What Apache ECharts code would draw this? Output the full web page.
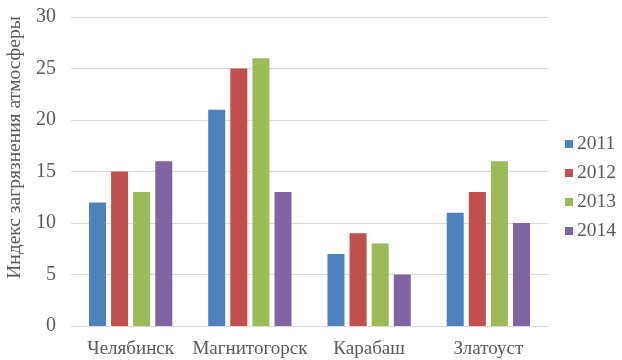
<!DOCTYPE html>
<html>
<head>
<meta charset="utf-8">
<script src="https://cdn.jsdelivr.net/npm/echarts@6/dist/echarts.min.js"></script>
<style>
  html, body { margin: 0; padding: 0; background: #fff; }
  #chart { width: 622px; height: 360px; }
</style>
</head>
<body>
<div id="chart"></div>
<script>
// Cities and yearly atmospheric pollution index values
const cities = ['Челябинск', 'Магнитогорск', 'Карабаш', 'Златоуст'];
const years = ['2011', '2012', '2013', '2014'];
const values2011 = [12, 21, 7, 11];
const values2012 = [15, 25, 9, 13];
const values2013 = [13, 26, 8, 16];
const values2014 = [16, 13, 5, 10];
const yTicks = [0, 5, 10, 15, 20, 25, 30];

const colors = ['#4F81BD', '#C0504D', '#9BBB59', '#8064A2'];
const seriesValues = [values2011, values2012, values2013, values2014];
const font = '"Liberation Serif", "Times New Roman", serif';
const textColor = '#595959';

const chart = echarts.init(document.getElementById('chart'), null, { renderer: 'canvas' });

chart.setOption({
  animation: false,
  color: colors,
  textStyle: { fontFamily: font },
  grid: { left: 71, right: 74, top: 17, bottom: 34, outerBoundsMode: 'none', containLabel: false },
  legend: {
    orient: 'vertical',
    right: 1,
    top: 129,
    itemWidth: 8,
    itemHeight: 8,
    itemGap: 9,
    icon: 'rect',
    textStyle: { fontFamily: font, fontSize: 19.5, color: textColor, padding: [0, 0, 0, -1] },
    data: years
  },
  xAxis: {
    type: 'category',
    data: cities,
    axisTick: { show: false },
    axisLine: { lineStyle: { color: '#D9D9D9', width: 1 } },
    axisLabel: { fontFamily: font, fontSize: 19, color: textColor, margin: 14, interval: 0 }
  },
  yAxis: {
    type: 'value',
    min: yTicks[0],
    max: yTicks[yTicks.length - 1],
    interval: 5,
    name: 'Индекс загрязнения атмосферы',
    nameLocation: 'middle',
    nameRotate: 90,
    nameGap: 46,
    nameTextStyle: { fontFamily: font, fontSize: 19.5, color: textColor, padding: [0, 0, 0, 48] },
    axisLine: { show: false },
    axisTick: { show: false },
    axisLabel: { fontFamily: font, fontSize: 20, color: textColor, margin: 15 },
    splitLine: { lineStyle: { color: '#D9D9D9', width: 1 } }
  },
  series: seriesValues.map((vals, i) => ({
    name: years[i],
    type: 'bar',
    data: vals,
    barWidth: 17,
    barGap: '30%',
    barCategoryGap: '30%'
  }))
});
</script>
</body>
</html>
